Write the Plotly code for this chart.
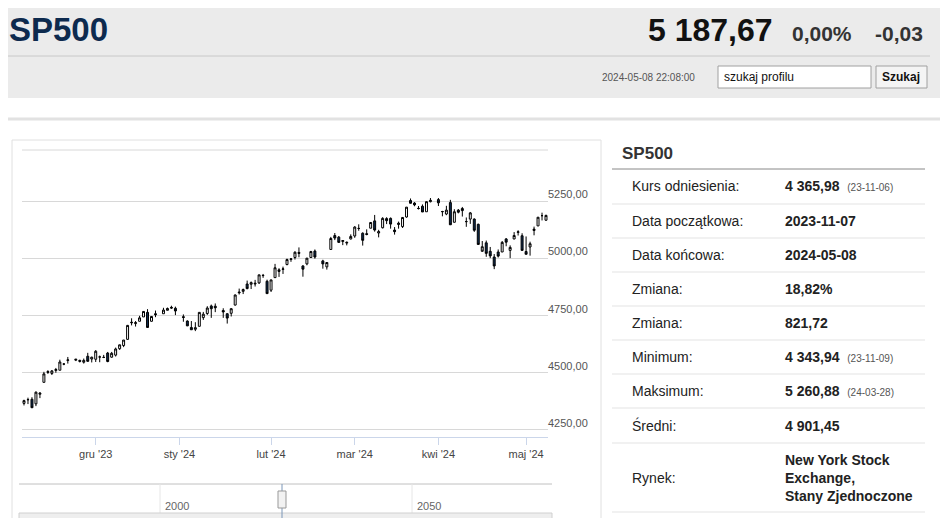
import plotly.graph_objects as go

# trading days Nov 7 2023 .. May 8 2024
dates = ["2023-11-07", "2023-11-08", "2023-11-09", "2023-11-10", "2023-11-13", "2023-11-14", "2023-11-15",
         "2023-11-16", "2023-11-17", "2023-11-20", "2023-11-21", "2023-11-22", "2023-11-24", "2023-11-27",
         "2023-11-28", "2023-11-29", "2023-11-30", "2023-12-01", "2023-12-04", "2023-12-05", "2023-12-06",
         "2023-12-07", "2023-12-08", "2023-12-11", "2023-12-12", "2023-12-13", "2023-12-14", "2023-12-15",
         "2023-12-18", "2023-12-19", "2023-12-20", "2023-12-21", "2023-12-22", "2023-12-26", "2023-12-27",
         "2023-12-28", "2023-12-29", "2024-01-02", "2024-01-03", "2024-01-04", "2024-01-05", "2024-01-08",
         "2024-01-09", "2024-01-10", "2024-01-11", "2024-01-12", "2024-01-16", "2024-01-17", "2024-01-18",
         "2024-01-19", "2024-01-22", "2024-01-23", "2024-01-24", "2024-01-25", "2024-01-26", "2024-01-29",
         "2024-01-30", "2024-01-31", "2024-02-01", "2024-02-02", "2024-02-05", "2024-02-06", "2024-02-07",
         "2024-02-08", "2024-02-09", "2024-02-12", "2024-02-13", "2024-02-14", "2024-02-15", "2024-02-16",
         "2024-02-20", "2024-02-21", "2024-02-22", "2024-02-23", "2024-02-26", "2024-02-27", "2024-02-28",
         "2024-02-29", "2024-03-01", "2024-03-04", "2024-03-05", "2024-03-06", "2024-03-07", "2024-03-08",
         "2024-03-11", "2024-03-12", "2024-03-13", "2024-03-14", "2024-03-15", "2024-03-18", "2024-03-19",
         "2024-03-20", "2024-03-21", "2024-03-22", "2024-03-25", "2024-03-26", "2024-03-27", "2024-03-28",
         "2024-04-01", "2024-04-02", "2024-04-03", "2024-04-04", "2024-04-05", "2024-04-08", "2024-04-09",
         "2024-04-10", "2024-04-11", "2024-04-12", "2024-04-15", "2024-04-16", "2024-04-17", "2024-04-18",
         "2024-04-19", "2024-04-22", "2024-04-23", "2024-04-24", "2024-04-25", "2024-04-26", "2024-04-29",
         "2024-04-30", "2024-05-01", "2024-05-02", "2024-05-03", "2024-05-06", "2024-05-07", "2024-05-08"]
opens = [4366, 4383, 4384, 4364, 4406, 4458, 4505, 4497, 4510, 4511, 4538, 4554, 4555, 4554,
         4546, 4572, 4560, 4559, 4569, 4567, 4586, 4568, 4577, 4605, 4619, 4646, 4721, 4715,
         4725, 4744, 4764, 4725, 4758, 4758, 4773, 4786, 4782, 4745, 4726, 4698, 4690, 4703,
         4741, 4759, 4792, 4791, 4772, 4758, 4760, 4796, 4853, 4856, 4888, 4887, 4888, 4893,
         4926, 4900, 4861, 4916, 4950, 4952, 4973, 4995, 5004, 5026, 4967, 4976, 5004, 5032,
         4989, 4963, 5039, 5100, 5093, 5074, 5067, 5085, 5098, 5131, 5110, 5108, 5132, 5164,
         5111, 5134, 5174, 5175, 5124, 5154, 5139, 5181, 5253, 5242, 5219, 5228, 5204, 5248,
         5257, 5204, 5194, 5244, 5158, 5211, 5218, 5161, 5172, 5172, 5149, 5031, 5068, 5031,
         5006, 5028, 5028, 5085, 5035, 5085, 5114, 5099, 5030, 5050, 5122, 5142, 5187, 5167]
closes = [4378, 4382, 4347, 4415, 4411, 4495, 4502, 4508, 4514, 4547, 4538, 4556, 4559, 4550,
          4554, 4550, 4568, 4594, 4569, 4567, 4549, 4585, 4604, 4622, 4643, 4707, 4719, 4719,
          4740, 4768, 4698, 4746, 4754, 4774, 4781, 4783, 4770, 4742, 4705, 4688, 4697, 4764,
          4756, 4783, 4780, 4784, 4766, 4739, 4780, 4840, 4850, 4864, 4868, 4894, 4891, 4928,
          4925, 4846, 4906, 4959, 4943, 4954, 4995, 4998, 5027, 5022, 4953, 5001, 5030, 5006,
          4976, 4982, 5087, 5089, 5070, 5078, 5070, 5096, 5137, 5131, 5079, 5105, 5157, 5124,
          5117, 5175, 5165, 5150, 5117, 5149, 5179, 5224, 5241, 5234, 5218, 5203, 5248, 5254,
          5243, 5205, 5211, 5147, 5204, 5202, 5209, 5161, 5199, 5123, 5061, 5051, 5022, 5011,
          4967, 5010, 5070, 5071, 5048, 5100, 5116, 5035, 5018, 5064, 5128, 5180, 5187, 5188]
highs = [4382, 4391, 4393, 4418, 4414, 4504, 4511, 4512, 4521, 4557, 4542, 4569, 4560, 4557,
         4562, 4587, 4570, 4599, 4575, 4578, 4591, 4591, 4610, 4623, 4643, 4709, 4738, 4726,
         4749, 4769, 4778, 4748, 4772, 4784, 4785, 4793, 4789, 4755, 4729, 4726, 4721, 4764,
         4766, 4791, 4798, 4803, 4782, 4760, 4783, 4842, 4868, 4868, 4903, 4899, 4906, 4929,
         4932, 4907, 4906, 4976, 4957, 4964, 4999, 5000, 5031, 5048, 4970, 5002, 5033, 5039,
         4994, 4984, 5094, 5111, 5098, 5080, 5074, 5105, 5141, 5149, 5114, 5127, 5159, 5190,
         5125, 5180, 5180, 5179, 5137, 5161, 5181, 5225, 5262, 5246, 5229, 5236, 5249, 5264,
         5264, 5208, 5230, 5256, 5215, 5216, 5225, 5179, 5203, 5175, 5152, 5076, 5078, 5050,
         5019, 5039, 5076, 5089, 5057, 5115, 5123, 5110, 5096, 5073, 5139, 5181, 5200, 5191]
lows = [4357, 4363, 4347, 4354, 4389, 4458, 4495, 4490, 4500, 4511, 4533, 4540, 4551, 4545,
        4540, 4548, 4545, 4547, 4546, 4564, 4546, 4566, 4571, 4600, 4612, 4644, 4707, 4702,
        4725, 4744, 4698, 4724, 4743, 4758, 4773, 4780, 4752, 4723, 4704, 4687, 4682, 4703,
        4731, 4753, 4740, 4765, 4740, 4715, 4746, 4794, 4842, 4844, 4865, 4866, 4877, 4888,
        4915, 4846, 4853, 4916, 4919, 4932, 4970, 4985, 4995, 5005, 4920, 4970, 5002, 4999,
        4955, 4951, 5038, 5080, 5068, 5058, 5057, 5083, 5090, 5121, 5056, 5101, 5132, 5117,
        5092, 5131, 5150, 5130, 5104, 5130, 5133, 5178, 5240, 5228, 5214, 5203, 5204, 5245,
        5229, 5184, 5189, 5146, 5157, 5197, 5183, 5138, 5151, 5116, 5060, 5039, 5007, 5001,
        4953, 5004, 5028, 5053, 5001, 5084, 5100, 5035, 5018, 5012, 5101, 5142, 5166, 5165]

y_ticks = [4250, 4500, 4750, 5000, 5250]
y_labels = ["4250,00", "4500,00", "4750,00", "5000,00", "5250,00"]
x_ticks = ["2023-12-01", "2024-01-01", "2024-02-01", "2024-03-01", "2024-04-01", "2024-05-01"]
x_labels = ["gru '23", "sty '24", "lut '24", "mar '24", "kwi '24", "maj '24"]

table_labels = ["Kurs odniesienia:", "Data początkowa:", "Data końcowa:", "Zmiana:", "Zmiana:",
                "Minimum:", "Maksimum:", "Średni:", "Rynek:"]
table_values = ["4 365,98", "2023-11-07", "2024-05-08", "18,82%", "821,72",
                "4 343,94", "5 260,88", "4 901,45", "New York Stock<br>Exchange,<br>Stany Zjednoczone"]
table_notes = ["(23-11-06)", "", "", "", "", "(23-11-09)", "(24-03-28)", "", ""]

W, H = 948, 518
OFF = 8  # page body margin in front of the figure
FONT = "Arial, Liberation Sans, sans-serif"


def px(x):
    return (x - OFF) / W


def py(y):
    return 1 - (y - OFF) / H


fig = go.Figure(go.Candlestick(
    x=dates, open=opens, high=highs, low=lows, close=closes,
    increasing={'line': {'color': '#000000', 'width': 1}, 'fillcolor': '#ffffff'},
    decreasing={'line': {'color': '#000000', 'width': 1}, 'fillcolor': '#0d2a4e'},
    whiskerwidth=0, showlegend=False, hoverinfo='x+y'
))

shapes = [
    # header background
    dict(type='rect', xref='paper', yref='paper', x0=-0.02, x1=1.02, y0=py(98), y1=1.02,
         fillcolor='#ebebeb', line={'width': 0}, layer='below'),
    dict(type='line', xref='paper', yref='paper', x0=px(8), x1=px(930), y0=py(56), y1=py(56),
         line={'color': '#c8c8c8', 'width': 1}),
    dict(type='rect', xref='paper', yref='paper', x0=px(718), x1=px(871), y0=py(88), y1=py(66),
         fillcolor='white', line={'color': '#a0a0a0', 'width': 1}),
    dict(type='rect', xref='paper', yref='paper', x0=px(876), x1=px(927), y0=py(88), y1=py(66),
         fillcolor='#f4f4f4', line={'color': '#a0a0a0', 'width': 1}),
    dict(type='line', xref='paper', yref='paper', x0=-0.02, x1=1.02, y0=py(119), y1=py(119),
         line={'color': '#e2e2e2', 'width': 3}),
    # chart box
    dict(type='rect', xref='paper', yref='paper', x0=px(12), x1=px(601), y0=py(540), y1=py(140),
         line={'color': '#e0e0e0', 'width': 1}),
    dict(type='line', xref='paper', yref='paper', x0=px(22), x1=px(548), y0=py(150), y1=py(150),
         line={'color': '#d8d8d8', 'width': 1}),
    # navigator
    dict(type='line', xref='paper', yref='paper', x0=px(19), x1=px(552), y0=py(484), y1=py(484),
         line={'color': '#c0c0c0', 'width': 1}),
    dict(type='line', xref='paper', yref='paper', x0=px(160), x1=px(160), y0=py(518), y1=py(484),
         line={'color': '#e6e6e6', 'width': 1}),
    dict(type='line', xref='paper', yref='paper', x0=px(412), x1=px(412), y0=py(518), y1=py(484),
         line={'color': '#e6e6e6', 'width': 1}),
    dict(type='rect', xref='paper', yref='paper', x0=px(19), x1=px(552), y0=py(524), y1=py(513),
         fillcolor='#eeeeee', line={'color': '#d0d0d0', 'width': 1}),
    dict(type='line', xref='paper', yref='paper', x0=px(282), x1=px(282), y0=py(518), y1=py(484),
         line={'color': '#7a96b8', 'width': 1}),
    dict(type='rect', xref='paper', yref='paper', x0=px(278), x1=px(286), y0=py(508), y1=py(491),
         fillcolor='#f2f2f2', line={'color': '#999999', 'width': 1}),
    # table title rule
    dict(type='line', xref='paper', yref='paper', x0=px(612), x1=px(925), y0=py(169), y1=py(169),
         line={'color': '#888888', 'width': 1}),
]

row_bounds = [169, 204, 238, 272, 306, 340, 374, 408, 443, 512]
for yb in row_bounds[1:]:
    shapes.append(dict(type='line', xref='paper', yref='paper', x0=px(612), x1=px(925),
                       y0=py(yb), y1=py(yb), line={'color': '#e3e3e3', 'width': 1}))

ann = [
    dict(x=px(7), y=py(29), text="<b>SP500</b>", font={'size': 33, 'color': '#0d2a4e'}, xanchor='left'),
    dict(x=px(775), y=py(30), text="<b>5 187,67</b>", font={'size': 32, 'color': '#111111'}, xanchor='right'),
    dict(x=px(790), y=py(33), text="<b>0,00%</b>", font={'size': 21, 'color': '#333333'}, xanchor='left'),
    dict(x=px(873), y=py(33), text="<b>-0,03</b>", font={'size': 21, 'color': '#333333'}, xanchor='left'),
    dict(x=px(697), y=py(78), text="2024-05-08 22:08:00", font={'size': 10, 'color': '#555555'}, xanchor='right'),
    dict(x=px(722), y=py(77), text="szukaj profilu", font={'size': 12, 'color': '#111111'}, xanchor='left'),
    dict(x=px(901), y=py(77), text="<b>Szukaj</b>", font={'size': 12, 'color': '#111111'}, xanchor='center'),
    dict(x=px(620), y=py(153), text="<b>SP500</b>", font={'size': 17, 'color': '#333333'}, xanchor='left'),
    dict(x=px(429), y=py(506), text="2050", font={'size': 11, 'color': '#666666'}, xanchor='center'),
    dict(x=px(177), y=py(506), text="2000", font={'size': 11, 'color': '#666666'}, xanchor='center'),
]
for v, lab in zip(y_ticks, y_labels):
    ann.append(dict(x=px(590), xref='paper', y=v, yref='y', text=lab, yshift=-1, xanchor='right',
                    yanchor='bottom', font={'size': 11, 'color': '#555555'}))
for i, lab in enumerate(table_labels):
    yc = (row_bounds[i] + row_bounds[i + 1]) / 2
    ann.append(dict(x=px(630), y=py(yc), text=lab, font={'size': 14, 'color': '#222222'}, xanchor='left'))
    txt = "<b>" + table_values[i] + "</b>"
    if table_notes[i]:
        txt += "  <span style='font-size:10px;color:#555555'>" + table_notes[i] + "</span>"
    ann.append(dict(x=px(783), y=py(yc), text=txt, font={'size': 14, 'color': '#222222'},
                    xanchor='left', align='left'))
for a in ann:
    a.setdefault('xref', 'paper')
    a.setdefault('yref', 'paper')
    a.setdefault('yanchor', 'middle')
    a['showarrow'] = False
    a['font']['family'] = FONT

fig.update_layout(
    width=W, height=H, margin={'l': 0, 'r': 0, 't': 0, 'b': 0},
    paper_bgcolor='white', plot_bgcolor='white', font={'family': FONT},
    shapes=shapes, annotations=ann,
    xaxis=dict(domain=[px(22), px(548)], range=["2023-11-06 12:00", "2024-05-08 12:00"],
               rangeslider={'visible': False}, tickvals=x_ticks, ticktext=x_labels,
               ticks='outside', ticklen=7, tickcolor='#cbd6ea', showgrid=False,
               showline=True, linecolor='#cbd6ea', tickfont={'size': 11, 'color': '#444444'},
               rangebreaks=[dict(bounds=['sat', 'mon'])]),
    yaxis=dict(domain=[py(437), py(150)], range=[4219, 5474], tickvals=y_ticks,
               showticklabels=False, gridcolor='#d8d8d8', zeroline=False),
)

fig.write_html("out.html")
